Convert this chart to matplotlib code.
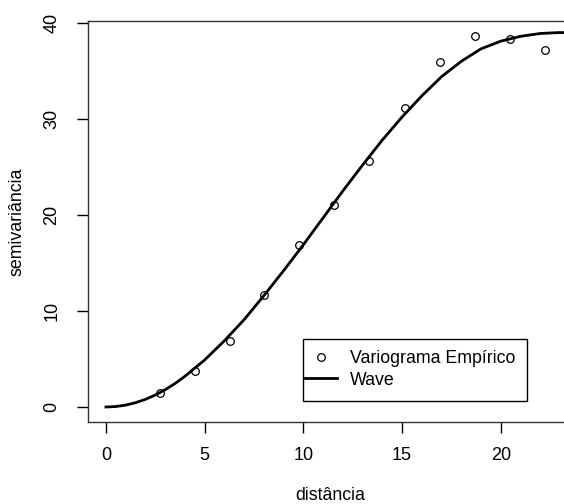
import matplotlib.pyplot as plt
from matplotlib.patches import Rectangle

plt.rcParams['font.family'] = ['Liberation Sans', 'DejaVu Sans']

# variograma empirico
dist = [2.73, 4.49, 6.26, 8.03, 9.80, 11.57, 13.33, 15.15, 16.92, 18.69, 20.45, 22.22]
semiv = [1.46, 3.75, 6.90, 11.70, 16.90, 21.00, 25.60, 31.10, 35.90, 38.60, 38.30, 37.20]

# modelo wave
h_mod = [0, 0.5, 1, 1.5, 2, 2.5, 3, 3.5, 4, 5, 6, 7, 8, 9, 10, 11, 12, 13, 14, 15, 16, 17, 18, 19, 20,
         21, 22, 23, 23.7]
g_mod = [0, 0.05, 0.2, 0.45, 0.8, 1.25, 1.8, 2.45, 3.2, 4.9, 6.9, 9.1, 11.6, 14.2, 16.9, 19.7, 22.5,
         25.2, 27.8, 30.2, 32.4, 34.4, 36.0, 37.3, 38.1, 38.6, 38.9, 39.0, 38.95]

xticks = [0, 5, 10, 15, 20]
yticks = [0, 10, 20, 30, 40]

fig = plt.figure(figsize=(5.64, 5.04), dpi=100)
ax = fig.add_axes([88/564, 1 - 421.7/504, (573 - 88)/564, (421.7 - 21)/504])

ax.plot(dist, semiv, 'o', mfc='none', mec='black', ms=5.5, mew=0.9, label='Variograma Empírico')
ax.plot(h_mod, g_mod, '-', color='black', lw=2, label='Wave')

ax.set_xlim(-0.91, 23.66)
ax.set_ylim(-1.53, 40.2)
ax.set_xticks(xticks)
ax.set_yticks(yticks)
ax.tick_params(direction='out', length=8, width=1, labelsize=13, pad=10)
ax.tick_params(axis='y', pad=12)
for lab in ax.get_yticklabels():
    lab.set_rotation(90)
    lab.set_va('center')
for s in ax.spines.values():
    s.set_linewidth(1)
    s.set_color('#333333')

ax.set_xlabel('distância', fontsize=12.8, labelpad=17)
ax.set_ylabel('semivariância', fontsize=12.8, labelpad=13)

# caixa da legenda (estilo R)
ax.add_patch(Rectangle((0.4427, 0.0524), 0.4619, 0.1532, transform=ax.transAxes,
                       fill=False, edgecolor='black', lw=1, zorder=4))
leg = ax.legend(loc='center left', bbox_to_anchor=(0.4427 + 2/485, 0.1303),
                frameon=False, fontsize=12.8,
                handlelength=1.8, handletextpad=0.75, borderpad=0, labelspacing=0.25,
                borderaxespad=0)

fig.savefig('out.png', dpi=100)
